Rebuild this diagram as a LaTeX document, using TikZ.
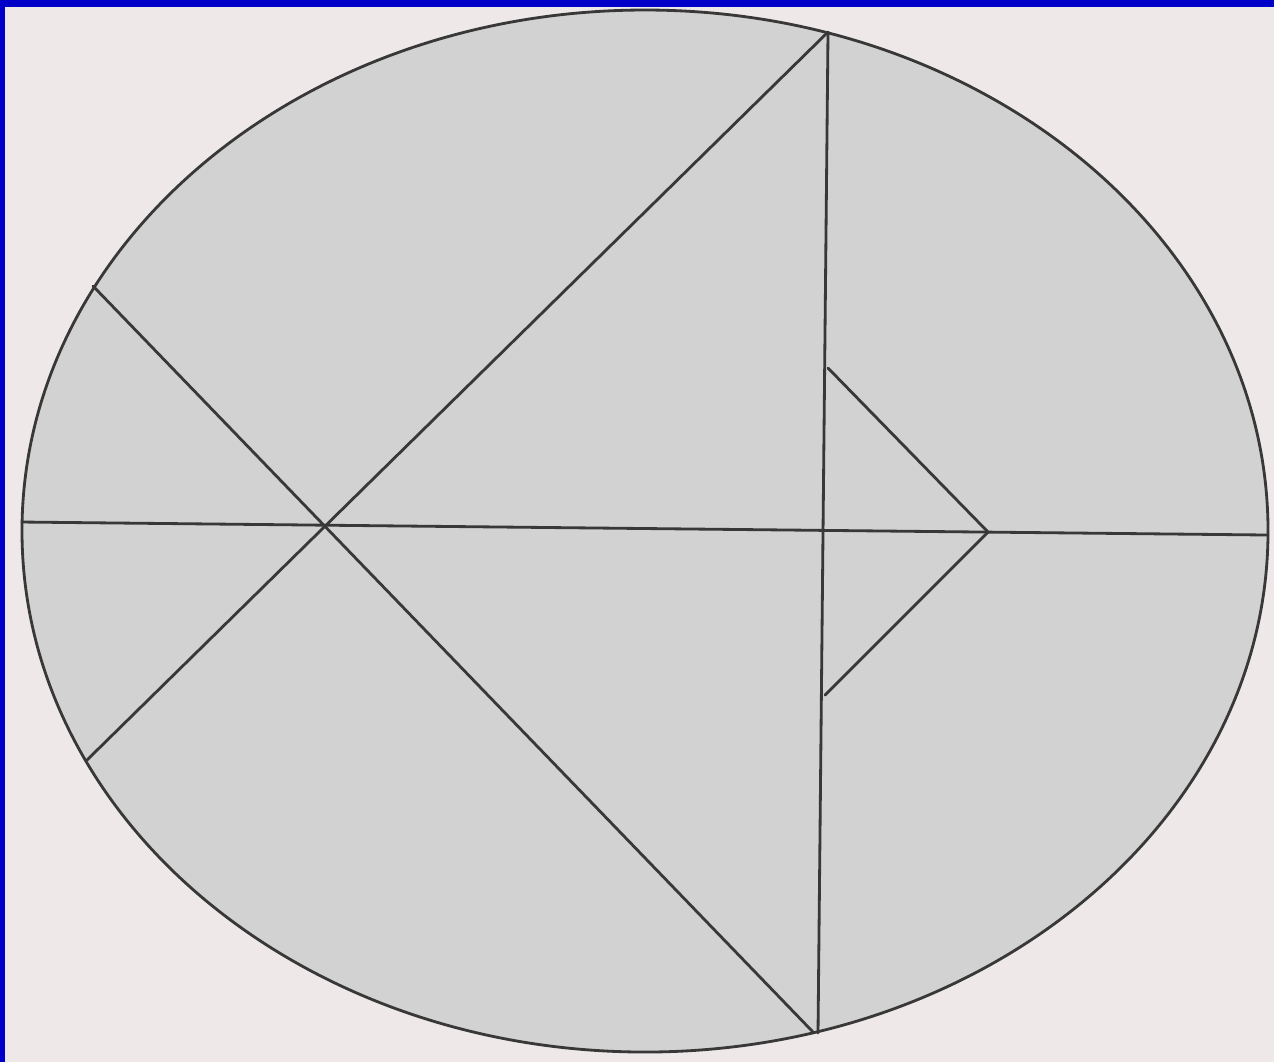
\documentclass[tikz,border=0pt]{standalone}
\usepackage{tikz}
\usepackage{xcolor}
\usetikzlibrary{calc}
\definecolor{paper}{HTML}{EEE9E8}
\definecolor{shade}{HTML}{D3D2D2}
\definecolor{ink}{HTML}{383838}
\definecolor{frameblue}{HTML}{0000C8}

\begin{document}
\begin{tikzpicture}[x=0.01cm, y=-0.01cm,
  rim/.style={draw=ink, fill=shade, line width=0.8pt},
  cut/.style={draw=ink, line width=0.8pt, line cap=round}
]
% Page and frame
\fill[paper] (0,0) rectangle (1274,1062);
\fill[frameblue] (0,0) rectangle (1274,7);
\fill[frameblue] (0,0) rectangle (5,1062);
\useasboundingbox (0,0) rectangle (1274,1062);
% Ellipse
\draw[rim] (645,531) ellipse [x radius=623, y radius=521];
% Points on the rim
\coordinate (top) at (828,32);
\coordinate (bot) at (818,1033);
\coordinate (west) at (22,522);
\coordinate (east) at (1268,535);
\coordinate (nw) at (93,286);
\coordinate (sw) at (87,760);
\coordinate (sse) at (813,1032);
% Small triangle
\coordinate (tipup) at (828,368);
\coordinate (tip) at (988,532);
\coordinate (tipdown) at (825,695);
\foreach \a/\b in {west/east, nw/sse, top/sw, top/bot} {
  \draw[cut] (\a) -- (\b);
}
\draw[cut] (tipup) -- (tip) -- (tipdown);
\end{tikzpicture}
\end{document}
